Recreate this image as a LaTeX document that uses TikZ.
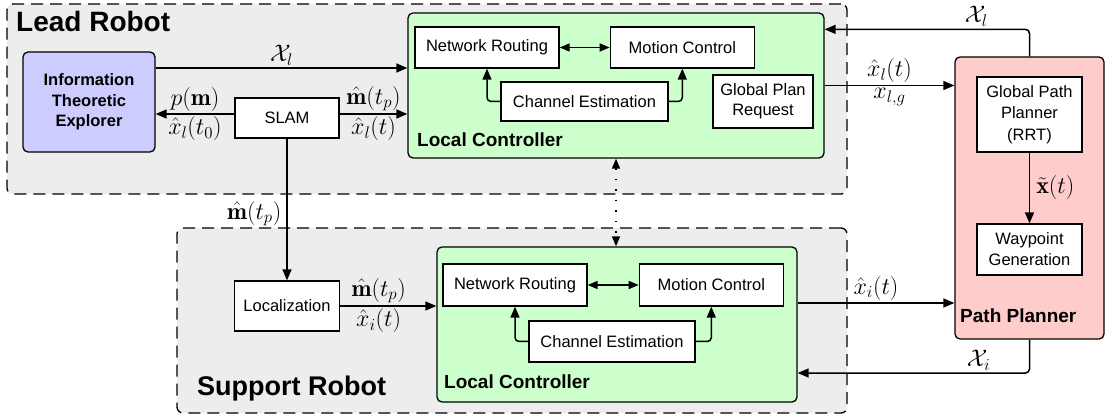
\RequirePackage{fix-cm}
\documentclass[tikz,border=0pt]{standalone}
\usepackage{amsmath}
\usepackage{fontspec}
\setsansfont{Liberation Sans}
\usetikzlibrary{arrows.meta, positioning}
\definecolor{grau}{HTML}{EDEDED}
\definecolor{lila}{HTML}{CCCCFF}
\definecolor{gruen}{HTML}{CCFFCC}
\definecolor{rosa}{HTML}{FFCCCC}

\begin{document}
\begin{tikzpicture}[x=1pt, y=-1pt,
every node/.append style = {inner sep=0pt},
node distance = 50pt and 50pt,
 gruppe/.style = {draw, line width=1.3pt, dash pattern=on 12pt off 7pt,
                  rounded corners=6pt, fill=grau},
  ramme/.style = {draw, line width=1.3pt, rounded corners=5pt},
   boks/.style = {draw, line width=1.3pt, fill=white, align=center,
                  font=\sffamily\fontsize{16.5}{21}\selectfont},
  titel/.style = {anchor=base west, font=\sffamily\bfseries\fontsize{#1}{#1}\selectfont},
titel/.default = 19,
etikett/.style = {inner sep=2pt, font=\fontsize{24}{28}\selectfont},
    pil/.style = {line width=1.5pt, -{Triangle[length=11pt,width=9pt]}},
 dobbel/.style = {line width=1.5pt,
                  {Triangle[length=10pt,width=8pt]}-{Triangle[length=10pt,width=8pt]}}
                    ]
\useasboundingbox (0,0) rectangle (1105,419);
%groups
\node (lead)  [gruppe, minimum width=840, minimum height=190] at (427,99)    {};
\node (supp)  [gruppe, minimum width=670, minimum height=185] at (512,320.5) {};
\node [titel=28] at (16,32)   {Lead Robot};
\node [titel=27] at (197,395) {Support Robot};
%lead robot
\node (expl)  [ramme, fill=lila, align=center, minimum width=132, minimum height=100,
               font=\sffamily\bfseries\fontsize{16.5}{20.5}\selectfont]
               at (89,102) {Information\\Theoretic\\Explorer};
\node (slam)  [boks, minimum width=104, minimum height=40] at (287,118) {SLAM};
\node (lcL)   [ramme, fill=gruen, minimum width=416, minimum height=145] at (616,85.5) {};
\node [titel] at (417,147) {Local Controller};
\node (nrL)   [boks, minimum width=144, minimum height=41] at (487,47.5) {Network Routing};
\node (mcL)   [boks, minimum width=144, minimum height=41, right=of nrL] {Motion Control};
\node (ceL)   [boks, minimum width=167, minimum height=39] at (584.5,101.5) {Channel Estimation};
\node (gpr)   [boks, minimum width=100, minimum height=53,
               font=\sffamily\fontsize{16.5}{20}\selectfont]
               at (763,101.5) {Global Plan\\Request};
%path planner
\node (pp)    [ramme, fill=rosa, minimum width=149, minimum height=282] at (1029.5,198) {};
\node [titel] at (960,323) {Path Planner};
\node (gpp)   [boks, minimum width=105, minimum height=75,
               font=\sffamily\fontsize{16.5}{21.5}\selectfont]
               at (1029.5,114.5) {Global Path\\Planner\\(RRT)};
\node (wg)    [boks, minimum width=105, minimum height=51] at (1029.5,249.5) {Waypoint\\Generation};
%support robot
\node (loc)   [boks, minimum width=105, minimum height=50] at (287,306) {Localization};
\node (lcS)   [ramme, fill=gruen, minimum width=360, minimum height=155] at (617,324.5) {};
\node [titel] at (444,388) {Local Controller};
\node (nrS)   [boks, minimum width=144, minimum height=42] at (515,285) {Network Routing};
\node (mcS)   [boks, minimum width=144, minimum height=42, right=51pt of nrS] {Motion Control};
\node (ceS)   [boks, minimum width=166, minimum height=41] at (612,341.5) {Channel Estimation};
% edges
\draw[pil]  ([yshift=34pt]expl.east) -- ([yshift=34pt]expl.east -| lcL.west)
            node[etikett, midway, above] {$\mathcal{X}_l$};
\draw[pil]  ([yshift=4pt]slam.west) -- ([yshift=4pt]slam.west -| expl.east)
            node[etikett, midway, above] {$p(\mathbf{m})$}
            node[etikett, midway, below] {$\hat{x}_l(t_0)$};
\draw[pil]  ([yshift=4pt]slam.east) -- ([yshift=4pt]slam.east -| lcL.west)
            node[etikett, midway, above] {$\hat{\mathbf{m}}(t_p)$}
            node[etikett, midway, below] {$\hat{x}_l(t)$};
\draw[pil]  (slam.south) -- (loc.north)
            node[etikett, pos=0.53, left=3pt] {$\hat{\mathbf{m}}(t_p)$};
\draw[pil]  (loc.east) -- (loc.east -| lcS.west)
            node[etikett, pos=0.4, above] {$\hat{\mathbf{m}}(t_p)$}
            node[etikett, pos=0.4, below] {$\hat{x}_i(t)$};
\draw[dobbel] (nrL) -- (mcL);
\draw[dobbel] (nrS) -- (mcS);
\draw[pil, rounded corners=4pt] (ceL.west) -| (nrL.south);
\draw[pil, rounded corners=4pt] (ceL.east) -| (mcL.south);
\draw[pil, rounded corners=4pt] (ceS.west) -| (nrS.south);
\draw[pil, rounded corners=4pt] (ceS.east) -| (mcS.south);
\draw[dobbel, dash pattern=on 1.5pt off 9pt] (lcL.south) -- (lcL.south |- lcS.north);
\draw[pil, rounded corners=4pt] (pp.north) |- ([yshift=-17pt]lcL.north east)
            node[etikett, pos=0.63, above] {$\mathcal{X}_l$};
\draw[pil]  (lcL.east) -- (lcL.east -| pp.west)
            node[etikett, midway, above] {$\hat{x}_l(t)$}
            node[etikett, midway, below] {$x_{l,g}$};
\draw[pil]  ([yshift=21.5pt]lcS.east) -- ([yshift=21.5pt]lcS.east -| pp.west)
            node[etikett, midway, above] {$\hat{x}_i(t)$};
\draw[pil, rounded corners=4pt] (pp.south) |- ([yshift=-48.5pt]lcS.east)
            node[etikett, pos=0.61, above] {$\mathcal{X}_i$};
\draw[pil]  (gpp) -- (wg) node[etikett, midway, right=4pt] {$\tilde{\mathbf{x}}(t)$};
\end{tikzpicture}
\end{document}
